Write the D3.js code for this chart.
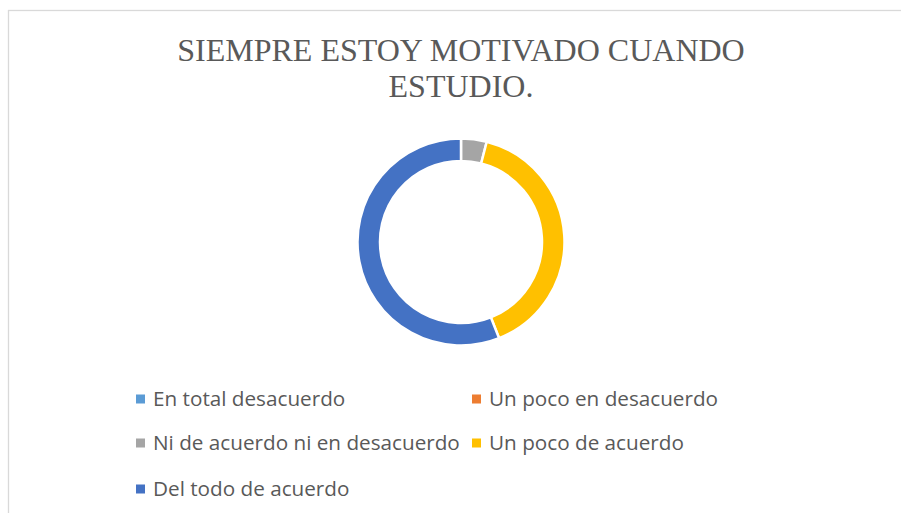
<!DOCTYPE html>
<html>
<head>
<meta charset="utf-8">
<script src="https://cdn.jsdelivr.net/npm/d3@7"></script>
<style>
    body { margin: 0; background: #fff; }
    svg { display: block; }
</style>
</head>
<body>
<div id="chart"></div>
<script>
// respuestas por categoría
const categories = ["En total desacuerdo", "Un poco en desacuerdo", "Ni de acuerdo ni en desacuerdo", "Un poco de acuerdo", "Del todo de acuerdo"];
const values = [0, 0, 1, 10, 14];
const colors = ["#5B9BD5", "#ED7D31", "#A5A5A5", "#FFC000", "#4472C4"];
const titleLines = ["SIEMPRE ESTOY MOTIVADO CUANDO", "ESTUDIO."];

const width = 901, height = 513;

const svg = d3.select("#chart")
    .append("svg")
    .attr("width", width)
    .attr("height", height);

// marco del gráfico
svg.append("rect")
    .attr("x", 8.5)
    .attr("y", 10.5)
    .attr("width", 920)
    .attr("height", 520)
    .attr("fill", "none")
    .attr("stroke", "#D9D9D9")
    .attr("stroke-width", 1.3);

svg.append("g")
    .selectAll("text")
    .data(titleLines)
    .enter()
    .append("text")
    .attr("x", 461)
    .attr("y", (d, i) => 61 + i * 36)
    .attr("text-anchor", "middle")
    .attr("font-family", "Liberation Serif, Times New Roman, serif")
    .attr("font-size", 32)
    .attr("fill", "#595959")
    .text(d => d);

const cx = 461, cy = 242, outerR = 103.5, innerR = 81;

const pie = d3.pie()
    .value(d => d.value)
    .sort(null);

const arc = d3.arc()
    .innerRadius(innerR)
    .outerRadius(outerR);

const data = categories.map((c, i) => ({name: c, value: values[i], color: colors[i]}));

svg.append("g")
    .attr("transform", `translate(${cx},${cy})`)
    .selectAll("path")
    .data(pie(data).filter(d => d.data.value > 0))
    .enter()
    .append("path")
    .attr("d", arc)
    .attr("fill", d => d.data.color)
    .attr("stroke", "#fff")
    .attr("stroke-width", 2.5);

// leyenda en dos columnas
const colX = [136, 472];
const rowY = [399, 443, 489];

const legend = svg.append("g")
    .selectAll("g")
    .data(data)
    .enter()
    .append("g")
    .attr("transform", (d, i) => `translate(${colX[i % 2]},${rowY[Math.floor(i / 2)]})`);

legend.append("rect")
    .attr("x", 0)
    .attr("y", -4.5)
    .attr("width", 9)
    .attr("height", 9)
    .attr("fill", d => d.color);

legend.append("text")
    .attr("x", 17)
    .attr("y", 7)
    .attr("font-family", "Open Sans, sans-serif")
    .attr("font-size", 20.7)
    .attr("fill", "#595959")
    .text(d => d.name);
</script>
</body>
</html>
